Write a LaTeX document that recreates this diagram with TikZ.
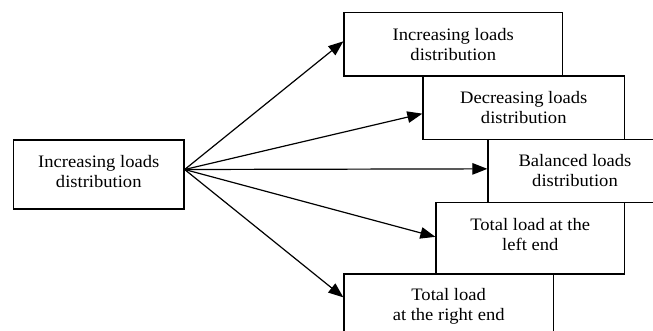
\documentclass[tikz,border=0pt]{standalone}
\usepackage{fontspec}
\setmainfont[FakeStretch=1.06]{Liberation Serif}
\usetikzlibrary{arrows.meta,calc}
\begin{document}
\begin{tikzpicture}[x=1pt,y=-1pt,
  box/.style={draw, line width=1.3pt, rectangle, inner sep=0pt, fill=white},
  txt/.style={anchor=north, align=center, inner sep=0pt, font=\fontsize{17.5}{20}\selectfont},
  arr/.style={line width=1.2pt, -{Triangle[length=15pt,width=11.5pt]}}]
\useasboundingbox (0,0) rectangle (653,331);
\clip (0,0) rectangle (653,331);
% boxes
\node[box, minimum width=170.5pt, minimum height=69pt] (L) at (98.75,174.5) {};
\node[box, minimum width=218.5pt, minimum height=63.3pt] (B1) at (453.25,44.35) {};
\node[box, minimum width=201.5pt, minimum height=63.3pt] (B2) at (523.75,107.65) {};
\node[box, minimum width=174pt, minimum height=63.4pt] (B3) at (575,171) {};
\node[box, minimum width=188.5pt, minimum height=71.3pt] (B4) at (530.25,238.35) {};
\node[box, minimum width=209.3pt, minimum height=63.3pt] (B5) at (448.65,305.65) {};
% texts
\node[txt] (Lt) at ($(L.north)+(0,16)$) {Increasing loads\\distribution};
\node[txt] (B1t) at ($(B1.north)+(0,16)$) {Increasing loads\\distribution};
\node[txt] (B2t) at ($(B2.north)+(0,16)$) {Decreasing loads\\distribution};
\node[txt] (B3t) at ($(B3.north)+(0,16)$) {Balanced loads\\distribution};
\node[txt] (B4t) at ($(B4.north)+(0,16)$) {Total load at the\\left end};
\node[txt] (B5t) at ($(B5.north)+(0,15)$) {Total load\\at the right end};
% connectors
\coordinate (src) at ($(L.east)+(0,-5)$);
\coordinate (t1) at ($(B1.north west)+(0,29.3)$);
\coordinate (t2) at ($(B2.north west)+(0,38.3)$);
\coordinate (t3) at ($(B3.north west)+(0,30.2)$);
\coordinate (t4) at ($(B4.north west)+(0,34.8)$);
\coordinate (t5) at ($(B5.north west)+(0,24)$);
\draw[arr] (src) -- (t1);
\draw[arr] (src) -- (t2);
\draw[arr] (src) -- (t3);
\draw[arr] (src) -- (t4);
\draw[arr] (src) -- (t5);
\end{tikzpicture}
\end{document}
